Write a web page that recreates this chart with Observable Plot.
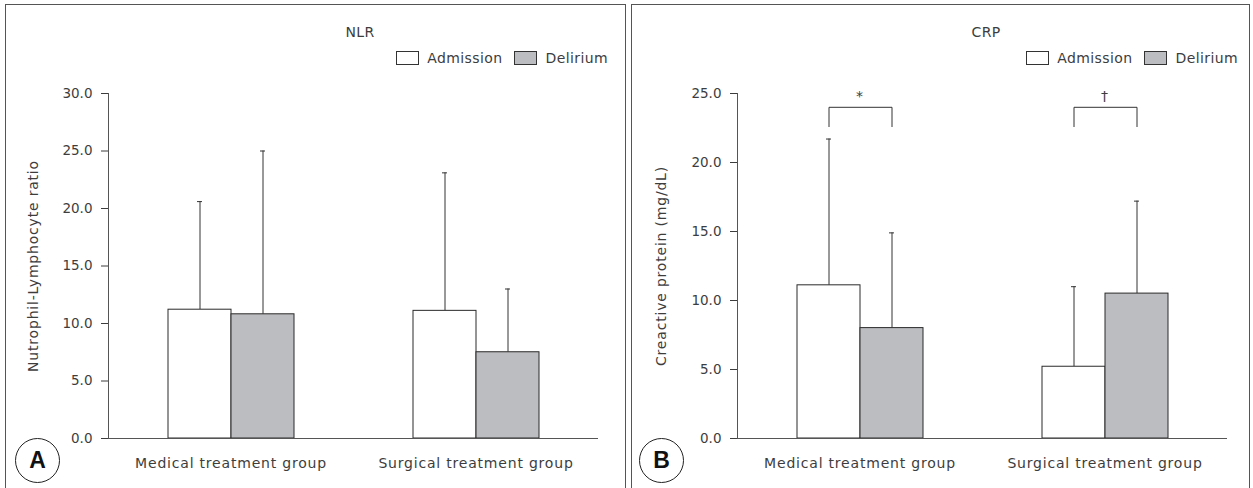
<!DOCTYPE html>
<html>
<head>
<meta charset="utf-8">
<script src="https://cdn.jsdelivr.net/npm/d3@7"></script>
<script src="https://cdn.jsdelivr.net/npm/@observablehq/plot@0.6"></script>
<style>
  body { margin: 0; background: #fff; }
  #page { position: relative; width: 1253px; height: 488px; overflow: hidden; font-family: "DejaVu Sans", sans-serif; color: #3d3d3d; }
  .panel { position: absolute; top: 4px; height: 500px; box-sizing: border-box; border: 1.5px solid #555; border-bottom: none; }
  .chart { position: absolute; top: 0; }
  .chart svg { overflow: visible; }
  .chart svg g[aria-label="y-axis tick label"] { letter-spacing: 0; font-size: 13.5px; }
  .title { position: absolute; top: 32px; transform: translate(-50%, -50%); font-size: 14px; letter-spacing: 0.3px; }
  .legend { position: absolute; top: 50px; display: flex; align-items: center; font-size: 14px; letter-spacing: 0.4px; }
  .legend .sw { width: 23px; height: 14px; border: 1px solid #333; box-sizing: border-box; margin-right: 8px; }
  .legend .item { display: flex; align-items: center; margin-left: 12px; }
  .badge { position: absolute; width: 45px; height: 45px; border: 1.2px solid #222; border-radius: 50%; box-sizing: border-box;
           display: flex; align-items: center; justify-content: center; font-family: "Liberation Sans", Arial, sans-serif; font-weight: bold; font-size: 23px; color: #111; }
</style>
</head>
<body>
<div id="page"></div>
<script>
// ---- data ----
const groups = ["Medical treatment group", "Surgical treatment group"];
const series = ["Admission", "Delirium"];
const seriesColors = ["#ffffff", "#bcbdc0"];

// NLR (Nutrophil-Lymphocyte ratio): mean and SD per group
const nlrAdmissionMean = [11.2, 11.1];
const nlrAdmissionSD   = [9.4, 12.0];
const nlrDeliriumMean  = [10.8, 7.5];
const nlrDeliriumSD    = [14.2, 5.5];
const nlrTicks = [0, 5, 10, 15, 20, 25, 30];

// CRP (C-reactive protein, mg/dL)
const crpAdmissionMean = [11.1, 5.2];
const crpAdmissionSD   = [10.6, 5.8];
const crpDeliriumMean  = [8.0, 10.5];
const crpDeliriumSD    = [6.9, 6.7];
const crpTicks = [0, 5, 10, 15, 20, 25];

// significance markers for CRP
const crpSigSymbols = ["*", "\u2020"];
const crpBracketTop = 24.0;
const crpBracketDrop = 22.6;
const crpSigLabelY = 24.8;

// ---- build tables ----
function rows(admMean, admSD, delMean, delSD) {
  const m = [admMean, delMean], s = [admSD, delSD];
  return groups.flatMap((g, i) => series.map((ser, j) => ({group: g, series: ser, mean: m[j][i], sd: s[j][i]})));
}
const nlrData = rows(nlrAdmissionMean, nlrAdmissionSD, nlrDeliriumMean, nlrDeliriumSD);
const crpData = rows(crpAdmissionMean, crpAdmissionSD, crpDeliriumMean, crpDeliriumSD);

const bracketData = groups.flatMap((g, i) => [
  {group: g, k: i, series: series[0], y: crpBracketDrop},
  {group: g, k: i, series: series[0], y: crpBracketTop},
  {group: g, k: i, series: series[1], y: crpBracketTop},
  {group: g, k: i, series: series[1], y: crpBracketDrop}
]);
const sigData = groups.map((g, i) => ({group: g, sig: crpSigSymbols[i], y: crpSigLabelY}));

const FONT = '"DejaVu Sans", sans-serif';

function chart({data, ticks, label, width, marginLeft, marginRight, labelOffset, extra = []}) {
  return Plot.plot({
    width, height: 488,
    marginLeft, marginRight, marginTop: 93, marginBottom: 50,
    style: {fontFamily: FONT, fontSize: "14px", color: "#3d3d3d", background: "transparent", letterSpacing: "0.8px"},
    fx: {domain: groups, paddingInner: 0, paddingOuter: 0, axis: "bottom", label: null, tickSize: 0, tickPadding: 20},
    x: {domain: series, axis: null, paddingInner: 0, paddingOuter: 0.918},
    y: {domain: [0, d3.max(ticks)], ticks, tickFormat: d3.format(".1f"), label, labelArrow: "none",
        labelAnchor: "center", labelOffset, tickSize: 7, tickPadding: 9},
    color: {domain: series, range: seriesColors},
    marks: [
      Plot.ruleX(data, {fx: "group", x: "series", y1: "mean", y2: d => d.mean + d.sd, stroke: "#333"}),
      Plot.tickY(data, {fx: "group", x: "series", y: d => d.mean + d.sd, stroke: "#333", insetLeft: 29, insetRight: 29}),
      Plot.barY(data, {fx: "group", x: "series", y: "mean", fill: "series", stroke: "#2a2a2a", strokeWidth: 1}),
      Plot.ruleY([0], {stroke: "#555"}),
      Plot.frame({anchor: "left", facetAnchor: "left", stroke: "#555"}),
      ...extra
    ]
  });
}

const page = document.getElementById("page");
function add(html) { const d = document.createElement("div"); d.innerHTML = html; const el = d.firstElementChild; page.appendChild(el); return el; }

// panel frames
add('<div class="panel" style="left:5px;width:621px"></div>');
add('<div class="panel" style="left:631px;width:619px"></div>');

// charts
const a = chart({data: nlrData, ticks: nlrTicks, label: "Nutrophil-Lymphocyte ratio", width: 626, marginLeft: 107, marginRight: 28, labelOffset: 80});
const aDiv = add('<div class="chart" style="left:0px"></div>'); aDiv.appendChild(a);

const b = chart({data: crpData, ticks: crpTicks, label: "Creactive protein (mg/dL)", width: 627, marginLeft: 110, marginRight: 26, labelOffset: 81,
  extra: [
    Plot.line(bracketData, {fx: "group", x: "series", y: "y", z: "k", stroke: "#333", strokeWidth: 1}),
    Plot.text(sigData, {fx: "group", text: "sig", y: "y", fontSize: 14})
  ]});
const bDiv = add('<div class="chart" style="left:626px"></div>'); bDiv.appendChild(b);

// titles
add('<div class="title" style="left:360px">NLR</div>');
add('<div class="title" style="left:986px">CRP</div>');

// legends
function legend(right) {
  return add(`<div class="legend" style="right:${right}px">` + series.map((s, i) =>
    `<div class="item"><div class="sw" style="background:${seriesColors[i]}"></div><span>${s}</span></div>`).join("") + `</div>`);
}
legend(1253 - 608);
legend(1253 - 1238);

// panel badges
add('<div class="badge" style="left:15px;top:438px">A</div>');
add('<div class="badge" style="left:639px;top:438px">B</div>');
</script>
</body>
</html>
